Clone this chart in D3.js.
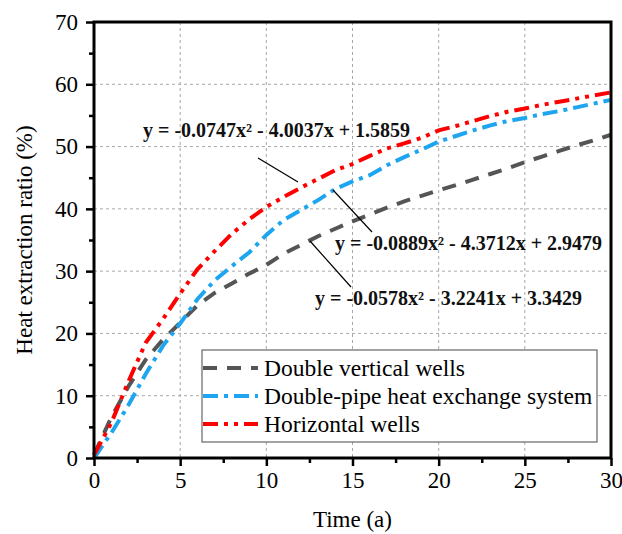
<!DOCTYPE html>
<html><head><meta charset="utf-8">
<script src="https://cdn.jsdelivr.net/npm/d3@7"></script>
<style>body{margin:0;background:#fff}svg{display:block;font-family:"Liberation Serif","Times New Roman",serif}</style>
</head><body><svg id="c" width="622" height="534"></svg>
<script>
const years = d3.range(0, 31);
const doubleVertical = [0.5,6.5,11.5,15.8,19,21.7,24.5,26.5,28,29.6,31,32.8,34.2,35.6,36.8,38,39.1,40.2,41.2,42.1,43,43.8,44.7,45.6,46.5,47.5,48.4,49.3,50.2,51,51.9];
const doublePipe = [0,4,8.5,13.5,18,21.6,25.5,28.5,30.8,33,35.8,38.2,39.8,41.4,43.2,44.4,45.4,47,48.3,49.5,50.8,51.7,52.6,53.4,54.1,54.6,55.2,55.7,56.3,56.9,57.5];
const horizontal = [0.5,5.6,12.3,18.5,22.3,26.4,30.3,33.2,36,38.3,40.3,41.9,43.4,44.8,46.2,47.2,48.5,49.7,50.5,51.4,52.6,53.3,54.1,54.9,55.6,56.1,56.7,57.2,57.7,58.2,58.7];
const seriesNames = ["Double vertical wells","Double-pipe heat exchange system","Horizontal wells"];
const xTicks = [0,5,10,15,20,25,30];
const yTicks = [0,10,20,30,40,50,60,70];
const equations = ["y = -0.0747x\u00b2 - 4.0037x + 1.5859","y = -0.0889x\u00b2 - 4.3712x + 2.9479","y = -0.0578x\u00b2 - 3.2241x + 3.3429"];

const svg = d3.select("#c");
const L=94,R=611,T=22,B=458;
const x = d3.scaleLinear().domain([0,30]).range([L,R]);
const y = d3.scaleLinear().domain([0,70]).range([B,T]);

// grid
const g = svg.append("g");
g.selectAll("line.vg").data(xTicks.slice(1,-1)).enter().append("line")
 .attr("x1",d=>x(d)).attr("x2",d=>x(d)).attr("y1",T).attr("y2",B)
 .attr("stroke","#a8a8a8").attr("stroke-width",1).attr("stroke-dasharray","3,3");
g.selectAll("line.hg").data(yTicks.slice(1,-1)).enter().append("line")
 .attr("y1",d=>y(d)).attr("y2",d=>y(d)).attr("x1",L).attr("x2",R)
 .attr("stroke","#a8a8a8").attr("stroke-width",1).attr("stroke-dasharray","3,3");

// series
const styles = [
 {data:doubleVertical,color:"#555555",dash:"14,10"},
 {data:doublePipe,color:"#1ea5f0",dash:"15,6,4,6"},
 {data:horizontal,color:"#ff0000",dash:"15,6,4,6,4,6"}
];
const line = d3.line().x((d,i)=>x(years[i])).y(d=>y(d));
styles.forEach(s=>{
 svg.append("path").datum(s.data).attr("d",line).attr("fill","none")
  .attr("stroke",s.color).attr("stroke-width",4).attr("stroke-dasharray",s.dash);
});

// axes
const fs = "23px";
const xMinor = d3.range(2.5,30,5);
const yMinor = d3.range(5,70,10);
const xa = svg.append("g").attr("transform",`translate(0,${B})`)
 .call(d3.axisBottom(x).tickValues(xTicks).tickSize(8).tickPadding(6).tickFormat(d3.format("d")));
const xm = svg.append("g").attr("transform",`translate(0,${B})`)
 .call(d3.axisBottom(x).tickValues(xMinor).tickSize(5).tickFormat(""));
const ya = svg.append("g").attr("transform",`translate(${L},0)`)
 .call(d3.axisLeft(y).tickValues(yTicks).tickSize(8).tickPadding(8).tickFormat(d3.format("d")));
const ym = svg.append("g").attr("transform",`translate(${L},0)`)
 .call(d3.axisLeft(y).tickValues(yMinor).tickSize(5).tickFormat(""));
[xa,xm,ya,ym].forEach(a=>{
 a.select(".domain").remove();
 a.selectAll(".tick line").attr("stroke","#000").attr("stroke-width",2.5);
 a.selectAll("text").attr("font-size",fs).attr("font-family","Liberation Serif").attr("fill","#000");
});
// frame
svg.append("rect").attr("x",L).attr("y",T).attr("width",R-L).attr("height",B-T)
 .attr("fill","none").attr("stroke","#000").attr("stroke-width",3);

// axis titles
svg.append("text").attr("x",(L+R)/2).attr("y",527).attr("text-anchor","middle")
 .attr("font-size",fs).text("Time (a)");
svg.append("text").attr("transform",`translate(32,${(T+B)/2}) rotate(-90)`).attr("text-anchor","middle")
 .attr("font-size",fs).text("Heat extraction ratio (%)");

// annotations
const ann = [
 {text:equations[0],tx:143,ty:137,x1:258,y1:158,x2:298,y2:182},
 {text:equations[1],tx:335,ty:250,x1:333,y1:190,x2:372,y2:232},
 {text:equations[2],tx:315,ty:305,x1:310,y1:241,x2:351,y2:287}
];
ann.forEach(a=>{
 svg.append("line").attr("x1",a.x1).attr("y1",a.y1).attr("x2",a.x2).attr("y2",a.y2)
  .attr("stroke","#000").attr("stroke-width",1.2);
 svg.append("text").attr("x",a.tx).attr("y",a.ty).attr("font-size","20px").attr("font-weight","bold")
  .attr("fill","#111").text(a.text);
});

// legend
const lg = svg.append("g");
lg.append("rect").attr("x",202).attr("y",350).attr("width",395).attr("height",92)
 .attr("fill","#fff").attr("stroke","#666").attr("stroke-width",1.2);
const rowY=[368,396,424];
styles.forEach((s,i)=>{
 lg.append("line").attr("x1",203).attr("x2",258).attr("y1",rowY[i]).attr("y2",rowY[i])
  .attr("stroke",s.color).attr("stroke-width",4).attr("stroke-dasharray",s.dash);
 lg.append("text").attr("x",264).attr("y",rowY[i]+8).attr("font-size","23.5px").text(seriesNames[i]);
});
</script></body></html>
